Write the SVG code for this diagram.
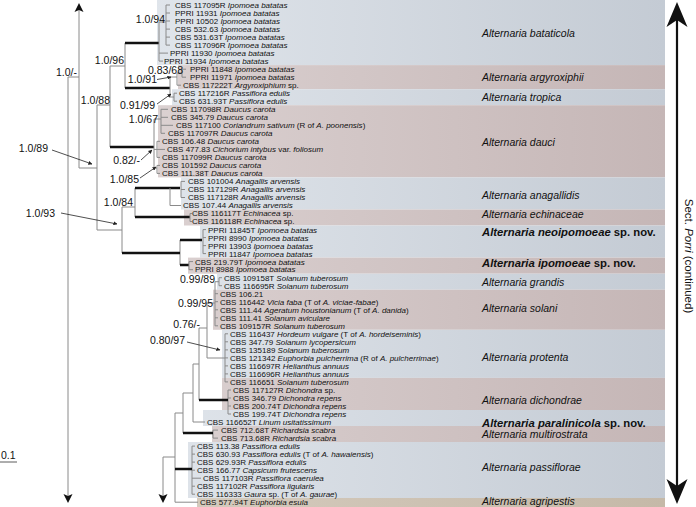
<svg xmlns="http://www.w3.org/2000/svg" width="696" height="507" viewBox="0 0 696 507">
<defs>
<linearGradient id="gb" gradientUnits="userSpaceOnUse" x1="150" y1="0" x2="665" y2="0"><stop offset="0" stop-color="#e0e5eb"/><stop offset="1" stop-color="#c4cbd4"/></linearGradient>
<linearGradient id="gp" gradientUnits="userSpaceOnUse" x1="150" y1="0" x2="665" y2="0"><stop offset="0" stop-color="#dbd1d1"/><stop offset="1" stop-color="#c5b6b6"/></linearGradient>
<linearGradient id="gt" gradientUnits="userSpaceOnUse" x1="150" y1="0" x2="665" y2="0"><stop offset="0" stop-color="#d6ccbf"/><stop offset="1" stop-color="#c5b9a8"/></linearGradient>
<marker id="ah" viewBox="0 0 10 10" refX="9" refY="5" markerWidth="5" markerHeight="5" orient="auto"><path d="M0,0 L10,5 L0,10 z" fill="#222"/></marker>
<style>
text{font-family:"Liberation Sans",Arial,sans-serif;fill:#111}
.t{font-size:8px}
.i{font-style:italic}
.s{font-size:10.5px}
.sp{font-size:10.5px;font-style:italic}
.bn{font-size:11.3px;font-weight:bold}
.ln{stroke:#8a8a8a;stroke-width:1;fill:none}
.bd{stroke:#111;stroke-width:2.5;fill:none}
.ar{stroke:#222;stroke-width:0.8;fill:none;marker-end:url(#ah)}
.blue{fill:url(#gb)}
.pink{fill:url(#gp)}
.tan{fill:url(#gt)}
</style>
</defs>
<rect width="696" height="507" fill="#ffffff"/>

<g id="bands">
<rect class="blue" x="157" y="0" width="508" height="65.1"/>
<rect class="pink" x="178" y="65.1" width="487" height="24.1"/>
<rect class="blue" x="172" y="89.2" width="493" height="16"/>
<rect class="pink" x="158" y="105.2" width="507" height="72.2"/>
<rect class="blue" x="181" y="177.4" width="484" height="32.1"/>
<rect class="pink" x="184" y="209.5" width="481" height="16"/>
<rect class="blue" x="200" y="225.5" width="465" height="32.1"/>
<rect class="pink" x="188" y="257.6" width="477" height="16.1"/>
<rect class="blue" x="217" y="273.7" width="448" height="16"/>
<rect class="pink" x="213" y="289.7" width="452" height="40.1"/>
<rect class="blue" x="222" y="329.8" width="443" height="48.1"/>
<rect class="pink" x="222" y="377.9" width="443" height="32.1"/>
<rect class="blue" x="203" y="410" width="462" height="16"/>
<rect class="pink" x="212" y="426" width="453" height="16"/>
<rect class="blue" x="188" y="442" width="477" height="56"/>
<rect class="tan" x="197" y="498" width="468" height="9"/>
</g>

<g id="connectors">
<path class="ln" d="M68,77 V496 M68,77 H79 M79,9 V168 M79,168 H97 M97,105 V230 M97,105 H110 M110,66 V147 M110,66 H125 M125,43 V88 M97,230 H122 M122,207 V253 M122,207 H135 M135,188 V217 M180,240 V265"/>
<path class="bd" d="M125,43 H159 M125,88 H170 M110,147 H154 M135,188 H180 M135,217 H190 M122,253 H180 M180,240 H202 M180,265 H189"/>
<path class="ln" d="M159,22 V61.1 M159,22 H166 M166,5 V45.1 M166,5 H170 M166,13 H170 M166,21 H170 M166,29.1 H170 M166,37.1 H170 M166,45.1 H170 M159,53.1 H168 M159,61.1 H163"/>
<path class="ln" d="M170,77 V97 M170,77 H177 M177,73 V85.2 M177,73 H182 M182,69.2 V77.2 M182,69.2 H186 M182,77.2 H186 M177,85.2 H181 M170,97 H174 M174,93.2 V101.2 M174,93.2 H177 M174,101.2 H177"/>
<path class="ln" d="M154,119 V168 M154,119 H161 M161,109.3 V133.3 M161,109.3 H168 M161,117.3 H168 M161,125.3 H173 M161,133.3 H165 M154,149.4 H157 M157,141.3 V157.4 M157,141.3 H160 M157,149.4 H165 M157,157.4 H160 M154,168 H157 M157,165.4 V173.4 M157,165.4 H160 M157,173.4 H160"/>
<path class="ln" d="M170,188 V205.5 M170,205.5 H181 M181,181.4 V197.5 M181,181.4 H185 M181,189.5 H185 M181,197.5 H185 M190,213.5 V221.5 M190,213.5 H192 M190,221.5 H192"/>
<path class="ln" d="M203,229.6 V253.6 M203,229.6 H206 M203,237.6 H206 M203,245.6 H206 M203,253.6 H206 M189,261.6 V269.7 M189,261.6 H193 M189,269.7 H193"/>
<path class="ln" d="M163,457 V496 M163,457 H175 M175,413 V502.2 M175,502.2 H198 M175,413 H183 M183,393 V433 M183,393 H193 M193,364 V422 M193,422 H205 M193,364 H199 M199,328 V400 M199,328 H207 M207,303 V358 M207,303 H215 M215,281.7 V325.8 M215,281.7 H219 M219,277.7 V285.7 M219,277.7 H222 M219,285.7 H222 M215,293.7 H218 M215,301.7 H218 M215,309.8 H218 M215,317.8 H218 M215,325.8 H218 M207,358 H225 M225,333.8 V381.9 M225,333.8 H228 M225,341.8 H228 M225,349.9 H228 M225,357.9 H228 M225,365.9 H228 M225,373.9 H228 M225,381.9 H228 M228,390 V414 M228,390 H231 M228,398 H231 M228,406 H231 M228,414 H231 M213,430.1 V438.1 M213,430.1 H218 M213,438.1 H218 M192,446.1 V494.2 M192,446.1 H195 M192,454.1 H195 M192,462.1 H195 M192,470.2 H195 M192,478.2 H201 M192,486.2 H195 M192,494.2 H195"/>
<path class="bd" d="M199,400 H228 M183,433 H213 M175,469 H192"/>
<path d="M79,3 L83.5,12 L79,10 L74.5,12 Z" fill="#111"/>
<path d="M68,503 L72.5,494 L68,496 L63.5,494 Z" fill="#111"/>
<path d="M163,503 L167.5,494 L163,496 L158.5,494 Z" fill="#111"/>
<path class="ar" d="M157,79.5 L171,77"/>
<path class="ar" d="M157,104 L171,94"/>
<path class="ar" d="M141,160 L152,150"/>
<path class="ar" d="M140,178 L156,167"/>
<path class="ar" d="M52,150 L92,164"/>
<path class="ar" d="M61,213 L117,224"/>
<path class="ar" d="M187,342 L220,350"/>
</g>

<g id="supports">
<text class="s" x="77" y="76" text-anchor="end">1.0/-</text>
<text class="s" x="124" y="64" text-anchor="end">1.0/96</text>
<text class="s" x="165" y="23" text-anchor="end">1.0/94</text>
<text class="s" x="183" y="74" text-anchor="end">0.83/68</text>
<text class="s" x="157" y="83" text-anchor="end">1.0/91</text>
<text class="s" x="110" y="104" text-anchor="end">1.0/88</text>
<text class="s" x="155" y="108.5" text-anchor="end">0.91/99</text>
<text class="s" x="158" y="122.5" text-anchor="end">1.0/67</text>
<text class="s" x="48" y="151.5" text-anchor="end">1.0/89</text>
<text class="s" x="140" y="164" text-anchor="end">0.82/-</text>
<text class="s" x="139" y="183" text-anchor="end">1.0/85</text>
<text class="s" x="133" y="205.5" text-anchor="end">1.0/84</text>
<text class="s" x="55" y="216.5" text-anchor="end">1.0/93</text>
<text class="s" x="215" y="282.5" text-anchor="end">0.99/89</text>
<text class="s" x="213" y="307" text-anchor="end">0.99/95</text>
<text class="s" x="200" y="327.5" text-anchor="end">0.76/-</text>
<text class="s" x="185" y="344" text-anchor="end">0.80/97</text>
</g>

<g id="bataticola">
<text class="t" x="175" y="7.9">CBS 117095R <tspan class="i">Ipomoea batatas</tspan></text>
<text class="t" x="175" y="15.9">PPRI 11931 <tspan class="i">Ipomoea batatas</tspan></text>
<text class="t" x="175" y="23.9">PPRI 10502 <tspan class="i">Ipomoea batatas</tspan></text>
<text class="t" x="175" y="32">CBS 532.63 <tspan class="i">Ipomoea batatas</tspan></text>
<text class="t" x="175" y="40">CBS 531.63T <tspan class="i">Ipomoea batatas</tspan></text>
<text class="t" x="175" y="48">CBS 117096R <tspan class="i">Ipomoea batatas</tspan></text>
<text class="t" x="170" y="56">PPRI 11930 <tspan class="i">Ipomoea batatas</tspan></text>
<text class="t" x="164" y="63.8">PPRI 11934 <tspan class="i">Ipomoea batatas</tspan></text>
<text class="sp" x="482" y="36.5">Alternaria bataticola</text>
</g>
<g id="argyroxiphii">
<text class="t" x="190" y="72.1">PPRI 11848 <tspan class="i">Ipomoea batatas</tspan></text>
<text class="t" x="190" y="80.1">PPRI 11971 <tspan class="i">Ipomoea batatas</tspan></text>
<text class="t" x="183" y="88.1">CBS 117222T <tspan class="i">Argyroxiphium</tspan> sp.</text>
<text class="sp" x="482" y="80.7">Alternaria argyroxiphii</text>
</g>
<g id="tropica">
<text class="t" x="179" y="96.1">CBS 117216R <tspan class="i">Passiflora edulis</tspan></text>
<text class="t" x="179" y="104.1">CBS 631.93T <tspan class="i">Passiflora edulis</tspan></text>
<text class="sp" x="482" y="100.7">Alternaria tropica</text>
</g>
<g id="dauci">
<text class="t" x="171" y="112.2">CBS 117098R <tspan class="i">Daucus carota</tspan></text>
<text class="t" x="171" y="120.2">CBS 345.79 <tspan class="i">Daucus carota</tspan></text>
<text class="t" x="176" y="128.2">CBS 117100 <tspan class="i">Coriandrum sativum</tspan> (R of <tspan class="i">A. poonensis</tspan>)</text>
<text class="t" x="168" y="136.2">CBS 117097R <tspan class="i">Daucus carota</tspan></text>
<text class="t" x="162" y="144.2">CBS 106.48 <tspan class="i">Daucus carota</tspan></text>
<text class="t" x="167" y="152.3">CBS 477.83 <tspan class="i">Cichorium intybus</tspan> var. <tspan class="i">foliosum</tspan></text>
<text class="t" x="162" y="160.3">CBS 117099R <tspan class="i">Daucus carota</tspan></text>
<text class="t" x="162" y="168.3">CBS 101592 <tspan class="i">Daucus carota</tspan></text>
<text class="t" x="162" y="176.3">CBS 111.38T <tspan class="i">Daucus carota</tspan></text>
<text class="sp" x="482" y="145.7">Alternaria dauci</text>
</g>
<g id="anagallidis">
<text class="t" x="188" y="184.3">CBS 101004 <tspan class="i">Anagallis arvensis</tspan></text>
<text class="t" x="188" y="192.4">CBS 117129R <tspan class="i">Anagallis arvensis</tspan></text>
<text class="t" x="188" y="200.4">CBS 117128R <tspan class="i">Anagallis arvensis</tspan></text>
<text class="t" x="183" y="208.4">CBS 107.44 <tspan class="i">Anagallis arvensis</tspan></text>
<text class="sp" x="482" y="198.7">Alternaria anagallidis</text>
</g>
<g id="echinaceae">
<text class="t" x="192" y="216.4">CBS 116117T <tspan class="i">Echinacea</tspan> sp.</text>
<text class="t" x="192" y="224.4">CBS 116118R <tspan class="i">Echinacea</tspan> sp.</text>
<text class="sp" x="482" y="217.7">Alternaria echinaceae</text>
</g>
<g id="neoipomoeae">
<text class="t" x="208" y="232.5">PPRI 11845T <tspan class="i">Ipomoea batatas</tspan></text>
<text class="t" x="208" y="240.5">PPRI 8990 <tspan class="i">Ipomoea batatas</tspan></text>
<text class="t" x="208" y="248.5">PPRI 13903 <tspan class="i">Ipomoea batatas</tspan></text>
<text class="t" x="208" y="256.5">PPRI 11847 <tspan class="i">Ipomoea batatas</tspan></text>
<text class="bn" x="482" y="236"><tspan class="i">Alternaria neoipomoeae</tspan> sp. nov.</text>
</g>
<g id="ipomoeae">
<text class="t" x="195" y="264.5">CBS 219.79T <tspan class="i">Ipomoea batatas</tspan></text>
<text class="t" x="195" y="272.1">PPRI 8988 <tspan class="i">Ipomoea batatas</tspan></text>
<text class="bn" x="482" y="267"><tspan class="i">Alternaria ipomoeae</tspan> sp. nov.</text>
</g>
<g id="grandis">
<text class="t" x="224" y="280.6">CBS 109158T <tspan class="i">Solanum tuberosum</tspan></text>
<text class="t" x="224" y="288.6">CBS 116695R <tspan class="i">Solanum tuberosum</tspan></text>
<text class="sp" x="482" y="285.7">Alternaria grandis</text>
</g>
<g id="solani">
<text class="t" x="220" y="296.6">CBS 106.21</text>
<text class="t" x="220" y="304.6">CBS 116442 <tspan class="i">Vicia faba</tspan> (T of <tspan class="i">A. viciae-fabae</tspan>)</text>
<text class="t" x="220" y="312.7">CBS 111.44 <tspan class="i">Ageratum houstonianum</tspan> (T of <tspan class="i">A. danida</tspan>)</text>
<text class="t" x="220" y="320.7">CBS 111.41 <tspan class="i">Solanum aviculare</tspan></text>
<text class="t" x="220" y="328.7">CBS 109157R <tspan class="i">Solanum tuberosum</tspan></text>
<text class="sp" x="482" y="311.7">Alternaria solani</text>
</g>
<g id="protenta">
<text class="t" x="230" y="336.7">CBS 116437 <tspan class="i">Hordeum vulgare</tspan> (T of <tspan class="i">A. hordeiseminis</tspan>)</text>
<text class="t" x="230" y="344.7">CBS 347.79 <tspan class="i">Solanum lycopersicum</tspan></text>
<text class="t" x="230" y="352.8">CBS 135189 <tspan class="i">Solanum tuberosum</tspan></text>
<text class="t" x="230" y="360.8">CBS 121342 <tspan class="i">Euphorbia pulcherrima</tspan> (R of <tspan class="i">A. pulcherrimae</tspan>)</text>
<text class="t" x="230" y="368.8">CBS 116697R <tspan class="i">Helianthus annuus</tspan></text>
<text class="t" x="230" y="376.8">CBS 116696R <tspan class="i">Helianthus annuus</tspan></text>
<text class="t" x="230" y="384.8">CBS 116651 <tspan class="i">Solanum tuberosum</tspan></text>
<text class="sp" x="482" y="360.7">Alternaria protenta</text>
</g>
<g id="dichondrae">
<text class="t" x="233" y="392.9">CBS 117127R <tspan class="i">Dichondra</tspan> sp.</text>
<text class="t" x="233" y="400.9">CBS 346.79 <tspan class="i">Dichondra repens</tspan></text>
<text class="t" x="233" y="408.9">CBS 200.74T <tspan class="i">Dichondra repens</tspan></text>
<text class="t" x="233" y="416.9">CBS 199.74T <tspan class="i">Dichondra repens</tspan></text>
<text class="sp" x="482" y="403.7">Alternaria dichondrae</text>
</g>
<g id="paralinicola">
<text class="t" x="207" y="424.9">CBS 116652T <tspan class="i">Linum usitatissimum</tspan></text>
<text class="bn" x="482" y="427"><tspan class="i">Alternaria paralinicola</tspan> sp. nov.</text>
</g>
<g id="multirostrata">
<text class="t" x="221" y="433">CBS 712.68T <tspan class="i">Richardsia scabra</tspan></text>
<text class="t" x="221" y="441">CBS 713.68R <tspan class="i">Richardsia scabra</tspan></text>
<text class="sp" x="482" y="437.9">Alternaria multirostrata</text>
</g>
<g id="passiflorae">
<text class="t" x="197" y="449">CBS 113.38 <tspan class="i">Passiflora edulis</tspan></text>
<text class="t" x="197" y="457">CBS 630.93 <tspan class="i">Passiflora edulis</tspan> (T of <tspan class="i">A. hawaiensis</tspan>)</text>
<text class="t" x="197" y="465">CBS 629.93R <tspan class="i">Passiflora edulis</tspan></text>
<text class="t" x="197" y="473.1">CBS 166.77 <tspan class="i">Capsicum frutescens</tspan></text>
<text class="t" x="203" y="481.1">CBS 117103R <tspan class="i">Passiflora caerulea</tspan></text>
<text class="t" x="197" y="489.1">CBS 117102R <tspan class="i">Passiflora ligularis</tspan></text>
<text class="t" x="197" y="497.1">CBS 116333 <tspan class="i">Gaura</tspan> sp. (T of <tspan class="i">A. gaurae</tspan>)</text>
<text class="sp" x="482" y="470.7">Alternaria passiflorae</text>
</g>
<g id="agripestis">
<text class="t" x="200" y="505.1">CBS 577.94T <tspan class="i">Euphorbia esula</tspan></text>
<text class="sp" x="482" y="504.7">Alternaria agripestis</text>
</g>

<g id="section">
<line x1="677" y1="18" x2="677" y2="489" stroke="#111" stroke-width="2.2"/>
<path d="M677,2 L687.5,27 L677,20 L666.5,27 Z" fill="#111"/>
<path d="M677,504 L687.5,479 L677,486 L666.5,479 Z" fill="#111"/>
<text x="0" y="0" font-size="11.5" text-anchor="middle" transform="translate(685,256) rotate(90)">Sect. <tspan font-style="italic">Porri</tspan> (continued)</text>
</g>

<g id="scalebar">
<text class="s" x="1" y="459">0.1</text>
<line x1="0" y1="462" x2="17" y2="462" stroke="#333" stroke-width="0.8"/>
</g>
</svg>
